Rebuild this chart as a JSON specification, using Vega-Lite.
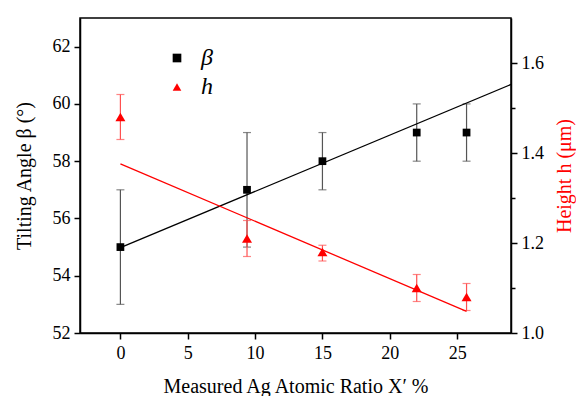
{
  "$schema": "https://vega.github.io/schema/vega-lite/v6.json",
  "width": 431,
  "height": 315,
  "autosize": "none",
  "padding": {"left": 80, "top": 18, "right": 65, "bottom": 63},
  "config": {
    "view": {"stroke": "black", "strokeWidth": 1.5},
    "font": "Liberation Serif, Times New Roman, DejaVu Serif, serif",
    "legend": {"labelFont": "Liberation Serif, Times New Roman, DejaVu Serif, serif"},
    "axis": {
      "grid": false,
      "domainColor": "black",
      "domainWidth": 1.5,
      "tickColor": "black",
      "tickWidth": 1.5,
      "tickSize": 5,
      "labelOverlap": false,
      "labelFont": "Liberation Serif, Times New Roman, DejaVu Serif, serif",
      "labelFontSize": 18,
      "labelColor": "black",
      "titleFont": "Liberation Serif, Times New Roman, DejaVu Serif, serif",
      "titleFontSize": 20,
      "titleFontWeight": "normal",
      "titleColor": "black"
    }
  },
  "datasets": {
    "beta": [
      {"x": 0, "v": 55, "lo": 53, "hi": 57},
      {"x": 9.4, "v": 57, "lo": 55, "hi": 59},
      {"x": 15, "v": 58, "lo": 57, "hi": 59},
      {"x": 22, "v": 59, "lo": 58, "hi": 60},
      {"x": 25.7, "v": 59, "lo": 58, "hi": 60}
    ],
    "h": [
      {"x": 0, "v": 1.48, "lo": 1.43, "hi": 1.53},
      {"x": 9.4, "v": 1.21, "lo": 1.17, "hi": 1.25},
      {"x": 15, "v": 1.18, "lo": 1.16, "hi": 1.195},
      {"x": 22, "v": 1.1, "lo": 1.07, "hi": 1.13},
      {"x": 25.7, "v": 1.08, "lo": 1.05, "hi": 1.11}
    ],
    "betafit": [
      {"x": 0, "v": 54.98},
      {"x": 29, "v": 60.68}
    ],
    "hfit": [
      {"x": 0, "v": 1.376},
      {"x": 25.7, "v": 1.048}
    ]
  },
  "layer": [
    {
      "layer": [
        {
          "data": {"name": "beta"},
          "mark": {"type": "errorbar", "color": "#555555", "ticks": {"size": 8, "thickness": 1.2}, "thickness": 1.2},
          "encoding": {
            "x": {"field": "x", "type": "quantitative", "title": "Measured Ag Atomic Ratio X′ %", "scale": {"domain": [-3, 29], "nice": false, "zero": false}},
            "y": {"field": "lo", "type": "quantitative", "title": "Tilting Angle β (°)", "scale": {"domain": [52, 63], "nice": false, "zero": false}},
            "y2": {"field": "hi"}
          }
        },
        {
          "data": {"name": "betafit"},
          "mark": {"type": "line", "color": "black", "strokeWidth": 1.3},
          "encoding": {
            "x": {"field": "x", "type": "quantitative", "title": "Measured Ag Atomic Ratio X′ %", "scale": {"domain": [-3, 29], "nice": false, "zero": false}},
            "y": {"field": "v", "type": "quantitative", "title": "Tilting Angle β (°)", "scale": {"domain": [52, 63], "nice": false, "zero": false}}
          }
        },
        {
          "data": {"name": "beta"},
          "mark": {"type": "point", "filled": true, "opacity": 1, "size": 60},
          "encoding": {
            "x": {
              "field": "x", "type": "quantitative", "title": "Measured Ag Atomic Ratio X′ %",
              "scale": {"domain": [-3, 29], "nice": false, "zero": false},
              "axis": {
                "title": "Measured Ag Atomic Ratio X′ %",
                "values": [0, 5, 10, 15, 20, 25],
                "labelOverlap": false,
                "labelFlush": false,
                "labelFont": "Liberation Serif, Times New Roman, DejaVu Serif, serif",
                "tickSize": 6,
                "labelPadding": 5,
                "titleBaseline": "alphabetic",
                "titleY": 59
              }
            },
            "y": {
              "field": "v", "type": "quantitative", "title": "Tilting Angle β (°)",
              "scale": {"domain": [52, 63], "nice": false, "zero": false},
              "axis": {
                "title": "Tilting Angle β (°)",
                "orient": "left",
                "values": [52, 53, 54, 55, 56, 57, 58, 59, 60, 61, 62],
                "labelExpr": "datum.value % 2 == 0 ? datum.label : ''",
                "labelOverlap": false,
                "labelFont": "Liberation Serif, Times New Roman, DejaVu Serif, serif",
                "tickSize": {"condition": {"test": "datum.value % 2 == 0", "value": 6}, "value": 4},
                "labelPadding": 4,
                "titlePadding": 18
              }
            },
            "color": {
              "datum": "β",
              "scale": {"domain": ["β", "h"], "range": ["black", "#ff0000"]},
              "legend": {
                "title": null, "orient": "none", "legendX": 85, "legendY": 28,
                "labelFont": "Liberation Serif, Times New Roman, DejaVu Serif, serif", "labelFontStyle": "italic", "labelFontSize": 24,
                "symbolSize": 75, "rowPadding": 5, "labelOffset": 12, "padding": 0
              }
            },
            "shape": {
              "datum": "β",
              "scale": {"domain": ["β", "h"], "range": ["square", "triangle-up"]},
              "legend": {
                "title": null, "orient": "none", "legendX": 85, "legendY": 28,
                "labelFont": "Liberation Serif, Times New Roman, DejaVu Serif, serif", "labelFontStyle": "italic", "labelFontSize": 24,
                "symbolSize": 75, "rowPadding": 5, "labelOffset": 12, "padding": 0
              }
            }
          }
        }
      ]
    },
    {
      "layer": [
        {
          "data": {"name": "h"},
          "mark": {"type": "errorbar", "color": "#ff5050", "ticks": {"size": 8, "thickness": 1.2}, "thickness": 1.2},
          "encoding": {
            "x": {"field": "x", "type": "quantitative", "title": "Measured Ag Atomic Ratio X′ %", "scale": {"domain": [-3, 29], "nice": false, "zero": false}},
            "y": {"field": "lo", "type": "quantitative", "title": "Height h (μm)", "scale": {"domain": [1.0, 1.7], "nice": false, "zero": false}},
            "y2": {"field": "hi"}
          }
        },
        {
          "data": {"name": "hfit"},
          "mark": {"type": "line", "color": "#ff0000", "strokeWidth": 1.3},
          "encoding": {
            "x": {"field": "x", "type": "quantitative", "title": "Measured Ag Atomic Ratio X′ %", "scale": {"domain": [-3, 29], "nice": false, "zero": false}},
            "y": {"field": "v", "type": "quantitative", "title": "Height h (μm)", "scale": {"domain": [1.0, 1.7], "nice": false, "zero": false}}
          }
        },
        {
          "data": {"name": "h"},
          "mark": {"type": "point", "filled": true, "opacity": 1, "size": 100},
          "encoding": {
            "x": {"field": "x", "type": "quantitative", "title": "Measured Ag Atomic Ratio X′ %", "scale": {"domain": [-3, 29], "nice": false, "zero": false}},
            "y": {
              "field": "v", "type": "quantitative", "title": "Height h (μm)",
              "scale": {"domain": [1.0, 1.7], "nice": false, "zero": false},
              "axis": {
                "title": "Height h (μm)",
                "titleColor": "#ff0000",
                "orient": "right",
                "titleAngle": 270,
                "values": [1.0, 1.1, 1.2, 1.3, 1.4, 1.5, 1.6],
                "labelExpr": "round(datum.value*10) % 2 == 0 ? format(datum.value, '.1f') : ''",
                "labelOverlap": false,
                "labelFont": "Liberation Serif, Times New Roman, DejaVu Serif, serif",
                "tickSize": {"condition": {"test": "round(datum.value*10) % 2 == 0", "value": 6}, "value": 4},
                "labelPadding": 4,
                "titlePadding": 31
              }
            },
            "color": {"datum": "h"},
            "shape": {"datum": "h"}
          }
        }
      ]
    }
  ],
  "resolve": {"scale": {"y": "independent"}}
}
